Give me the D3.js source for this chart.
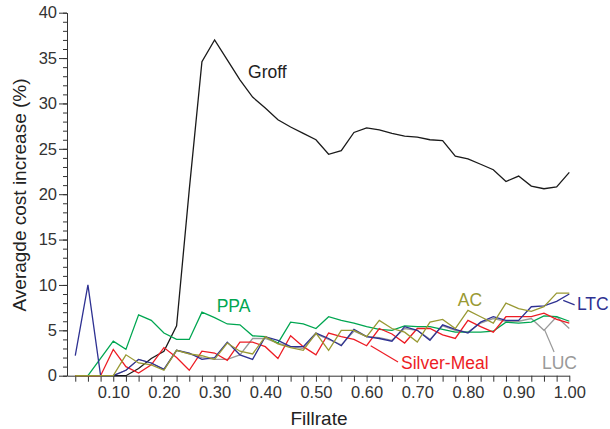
<!DOCTYPE html>
<html>
<head>
<meta charset="utf-8">
<script src="https://cdn.jsdelivr.net/npm/d3@7"></script>
<style>
  body { margin: 0; background: #fff; }
  svg { font-family: "Liberation Sans", Arial, sans-serif; }
</style>
</head>
<body>
<div id="chart"></div>
<script>
// Fillrate-Werte (x)
const fillrate = [0.025, 0.05, 0.075, 0.10, 0.125, 0.15, 0.175, 0.20, 0.225, 0.25,
                  0.275, 0.30, 0.325, 0.35, 0.375, 0.40, 0.425, 0.45, 0.475, 0.50,
                  0.525, 0.55, 0.575, 0.60, 0.625, 0.65, 0.675, 0.70, 0.725, 0.75,
                  0.775, 0.80, 0.825, 0.85, 0.875, 0.90, 0.925, 0.95, 0.975, 1.00];

// Kostensteigerung (%) je Verfahren
const groff = [0, 0, 0, 0, 0, 0.8, 1.9, 2.7, 5.5, 20.5,
               34.6, 37.0, 34.8, 32.6, 30.7, 29.5, 28.2, 27.4, 26.7, 26.0,
               24.4, 24.8, 26.8, 27.3, 27.1, 26.7, 26.4, 26.3, 26.0, 25.9,
               24.2, 23.9, 23.3, 22.7, 21.4, 22.0, 20.9, 20.6, 20.8, 22.4];
const ppa = [0, 0, 1.9, 3.8, 2.9, 6.7, 6.1, 4.7, 4.0, 4.0,
             7.0, 6.4, 5.7, 5.6, 4.4, 4.3, 3.6, 5.9, 5.7, 5.2,
             6.5, 6.1, 5.8, 5.4, 5.1, 5.0, 5.5, 5.4, 5.4, 5.1,
             4.8, 4.8, 4.8, 4.9, 5.9, 5.8, 5.9, 6.6, 6.5, 6.0];
const silverMeal = [0, 0, 0, 2.9, 1.0, 0.3, 1.2, 3.1, 2.0, 0.6,
                    2.7, 2.5, 1.7, 3.7, 3.7, 3.2, 1.9, 4.4, 3.2, 2.3,
                    4.7, 4.3, 4.0, 3.3, 5.2, 4.6, 3.6, 5.2, 5.2, 4.5,
                    4.1, 6.1, 5.4, 4.8, 6.5, 6.5, 6.5, 6.9, 6.2, 5.8];
const ac = [0, 0, 0, 0, 2.3, 1.4, 1.2, 0.6, 2.8, 2.4,
            2.2, 1.8, 3.6, 2.7, 2.4, 4.3, 3.5, 3.1, 2.8, 4.7,
            2.8, 5.0, 5.0, 4.3, 6.1, 5.2, 4.8, 3.7, 5.9, 6.2,
            5.2, 7.2, 6.5, 5.8, 8.0, 7.4, 7.1, 7.6, 9.1, 9.1];
const ltc = [2.2, 10.0, 0, 0, 0.6, 1.8, 1.4, 0.7, 2.8, 2.5,
             1.8, 2.0, 3.7, 2.3, 1.8, 4.3, 3.9, 3.2, 3.2, 4.7,
             4.1, 3.3, 5.1, 4.3, 4.1, 3.8, 5.4, 5.0, 3.9, 5.6,
             5.1, 4.7, 5.9, 6.5, 6.1, 6.1, 7.6, 7.7, 8.2, 9.0];
const luc = [0, 0, 0, 0, 0.6, 1.8, 1.4, 0.7, 2.8, 2.4,
             2.0, 1.8, 1.8, 2.3, 4.1, 4.1, 3.6, 3.2, 3.0, 4.6,
             4.0, 3.4, 4.9, 4.3, 4.2, 3.9, 5.2, 5.0, 4.0, 5.5,
             5.0, 4.8, 5.8, 6.3, 6.0, 6.0, 6.3, 5.0, 6.5, 5.2];

// Reihenfolge = Zeichenreihenfolge
const series = [
  { name: 'LUC', values: luc, color: '#9a9a9a' },
  { name: 'Groff', values: groff, color: '#1a1a1a' },
  { name: 'PPA', values: ppa, color: '#00a651' },
  { name: 'Silver-Meal', values: silverMeal, color: '#ed1c24' },
  { name: 'LTC', values: ltc, color: '#2e3192' },
  { name: 'AC', values: ac, color: '#999933' }
];

// Beschriftungen mit Position (Datenwert) und optionaler Hinweislinie
const labels = [
  { text: 'Groff', color: '#222', at: [0.366, 32.8] },
  { text: 'PPA', color: '#00a651', at: [0.304, 7.0] },
  { text: 'AC', color: '#999933', at: [0.78, 7.7] },
  { text: 'LTC', color: '#2e3192', at: [1.015, 7.2], line: [[0.988, 8.3], [1.0105, 7.8]] },
  { text: 'LUC', color: '#999', at: [0.946, 0.7], line: [[0.951, 5.1], [0.97, 2.6]] },
  { text: 'Silver-Meal', color: '#ed1c24', at: [0.668, 0.7], line: [[0.608, 3.3], [0.662, 1.5]] }
];

const width = 610, height = 429;
const svg = d3.select('#chart').append('svg')
  .attr('width', width)
  .attr('height', height);

const x = d3.scaleLinear().domain([0.0087, 1.0]).range([67, 569.3]);
const y = d3.scaleLinear().domain([0, 40]).range([375.7, 12.7]);

const axisColor = '#333';

// X-Achse: Ticks alle 0.025, Beschriftung nur bei 0.10-Schritten
const xAxis = svg.append('g')
  .attr('transform', `translate(0,${y(0)})`)
  .call(d3.axisBottom(x)
    .tickValues(fillrate)
    .tickSize(6)
    .tickSizeOuter(0)
    .tickPadding(5)
    .tickFormat((d, i) => (i + 1) % 4 === 0 ? d3.format('.2f')(d) : ''));
xAxis.selectAll('text').style('font-size', '16.5px').attr('fill', axisColor);

// Y-Achse: kleine Ticks alle 1, große alle 5
svg.append('g')
  .attr('transform', `translate(${x.range()[0]},0)`)
  .call(d3.axisLeft(y).tickValues(d3.range(0, 41, 1)).tickSize(4).tickSizeOuter(0).tickFormat(''));
const yAxis = svg.append('g')
  .attr('transform', `translate(${x.range()[0]},0)`)
  .call(d3.axisLeft(y).tickValues([0, 5, 10, 15, 20, 25, 30, 35, 40]).tickSize(8).tickSizeOuter(0).tickPadding(2));
yAxis.selectAll('text').style('font-size', '16.5px').attr('fill', axisColor);

svg.selectAll('.domain, .tick line').attr('stroke', axisColor).attr('stroke-width', 1);

// Achsentitel
svg.append('text')
  .attr('x', 319)
  .attr('y', 425)
  .attr('text-anchor', 'middle')
  .attr('fill', '#222')
  .style('font-size', '19px')
  .text('Fillrate');

svg.append('text')
  .attr('transform', 'rotate(-90)')
  .attr('x', -195)
  .attr('y', 26)
  .attr('text-anchor', 'middle')
  .attr('fill', '#222')
  .style('font-size', '19px')
  .text('Averagde cost increase (%)');

// Linien
const line = d3.line()
  .x((d, i) => x(fillrate[i]))
  .y(d => y(d));

svg.append('g')
  .selectAll('path')
  .data(series)
  .enter().append('path')
  .attr('d', d => line(d.values))
  .attr('fill', 'none')
  .attr('stroke', d => d.color)
  .attr('stroke-width', 1.3)
  .attr('stroke-linejoin', 'miter');

// Hinweislinien und Beschriftungen
labels.filter(l => l.line).forEach(l => {
  svg.append('line')
    .attr('x1', x(l.line[0][0])).attr('y1', y(l.line[0][1]))
    .attr('x2', x(l.line[1][0])).attr('y2', y(l.line[1][1]))
    .attr('stroke', l.color)
    .attr('stroke-width', 1.2);
});

svg.append('g')
  .selectAll('text')
  .data(labels)
  .enter().append('text')
  .attr('x', d => x(d.at[0]))
  .attr('y', d => y(d.at[1]))
  .attr('fill', d => d.color)
  .style('font-size', '17.5px')
  .text(d => d.text);
</script>
</body>
</html>
